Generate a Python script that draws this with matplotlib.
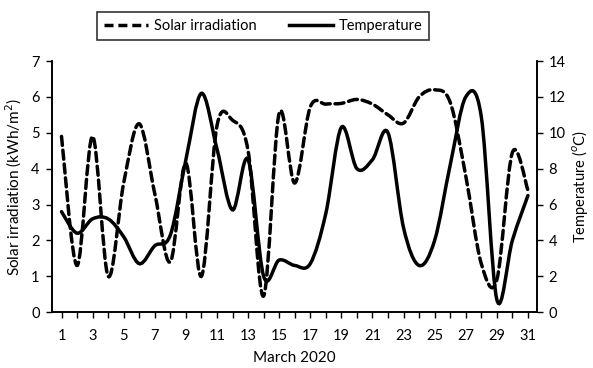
import numpy as np
import matplotlib
matplotlib.use("Agg")
import matplotlib.pyplot as plt
from matplotlib.path import Path
from matplotlib.patches import PathPatch
from matplotlib.lines import Line2D

plt.rcParams['font.family'] = ['Lato', 'DejaVu Sans']

days = list(range(1, 32))
solar = [4.9, 1.3, 4.9, 1.0, 3.6, 5.25, 3.3, 1.4, 4.15, 1.0, 5.2, 5.35, 4.5, 0.45,
         5.55, 3.6, 5.72, 5.8, 5.82, 5.93, 5.8, 5.5, 5.27, 6.0, 6.2, 5.85, 3.8, 1.35,
         0.9, 4.45, 3.4]
temperature = [5.6, 4.4, 5.2, 5.2, 4.2, 2.7, 3.7, 4.3, 8.5, 12.2, 9.1, 5.7, 8.5, 2.0,
               2.9, 2.6, 2.7, 5.5, 10.3, 8.0, 8.5, 10.0, 4.7, 2.6, 4.0, 8.2, 12.0, 10.9,
               0.7, 4.0, 6.5]


def smooth_path(x, y):
    # excel-like smoothed line: cubic bezier through every point
    p = np.column_stack([x, y]).astype(float)
    n = len(p)
    verts = [p[0]]
    codes = [Path.MOVETO]
    for i in range(n - 1):
        prev = p[max(i - 1, 0)]
        nxt = p[min(i + 2, n - 1)]
        c1 = p[i] + (p[i + 1] - prev) / 6
        c2 = p[i + 1] - (nxt - p[i]) / 6
        verts += [c1, c2, p[i + 1]]
        codes += [Path.CURVE4] * 3
    return Path(verts, codes)


fig = plt.figure(figsize=(5.93, 3.68), dpi=100)
ax = fig.add_axes([0.088, 0.152, 0.818, 0.682])
ax2 = ax.twinx()

lw = 2.5
dash = (0, (2.6, 1.4))

ax.add_patch(PathPatch(smooth_path(days, solar), fill=False, lw=lw,
                       linestyle=dash, edgecolor='black', capstyle='round'))
ax2.add_patch(PathPatch(smooth_path(days, temperature), fill=False, lw=lw,
                        edgecolor='black', capstyle='round'))

ax.set_xlim(0.4, 31.6)
ax.set_ylim(0, 7)
ax2.set_ylim(0, 14)

ax.set_xticks(days)
ax.set_xticklabels([str(d) if d % 2 == 1 else '' for d in days])
ax.set_yticks(range(0, 8))
ax2.set_yticks(range(0, 15, 2))

for a in (ax, ax2):
    a.spines['top'].set_visible(False)
    for s in a.spines.values():
        s.set_linewidth(1.2)
    a.tick_params(direction='out', length=4, width=1, labelsize=10.5, pad=5)
ax.tick_params(axis='x', pad=8)
ax2.tick_params(axis='y', pad=4)

ax.set_xlabel('March 2020', fontsize=11, labelpad=6)
ax.set_ylabel('Solar irradiation (kWh/m$^2$)', fontsize=11, labelpad=5)
ax2.set_ylabel('Temperature ($^o$C)', fontsize=10.5, labelpad=3)

handles = [Line2D([], [], color='black', lw=lw, linestyle=dash),
           Line2D([], [], color='black', lw=lw)]
leg = fig.legend(handles, ['Solar irradiation', 'Temperature'], loc='center',
                 bbox_to_anchor=(0.444, 0.929), ncol=2, frameon=True, fancybox=False,
                 fontsize=10.5, handlelength=3.0, columnspacing=2.2, borderpad=0.5,
                 handletextpad=0.4)
leg.get_frame().set_edgecolor('black')
leg.get_frame().set_linewidth(1.2)

fig.savefig('out.png', dpi=100)
